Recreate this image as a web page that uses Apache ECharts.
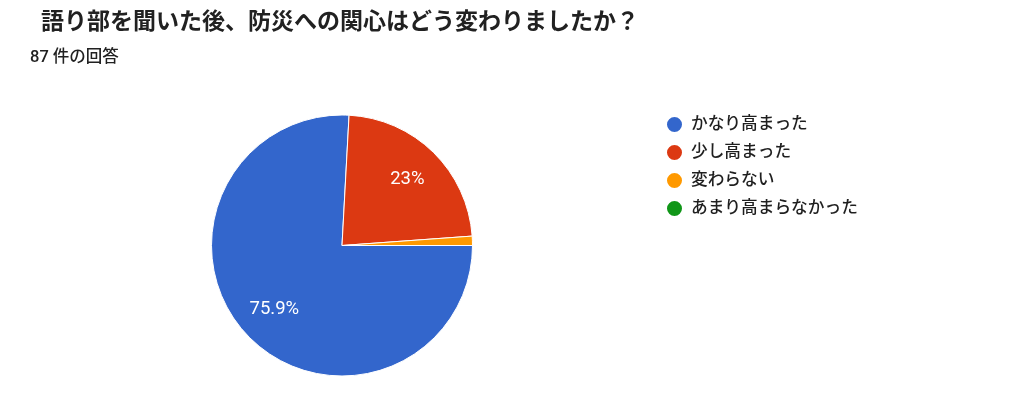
<!DOCTYPE html>
<html>
<head>
<meta charset="utf-8">
<script src="https://cdn.jsdelivr.net/npm/echarts@6/dist/echarts.min.js"></script>
<style>
html,body{margin:0;padding:0;background:#fff;}
#c{width:1024px;height:400px;}
</style>
</head>
<body>
<div id="c"></div>
<script>
const titleText = '語り部を聞いた後、防災への関心はどう変わりましたか？';
const subtitleText = '87 件の回答';
const categories = ['かなり高まった', '少し高まった', '変わらない', 'あまり高まらなかった'];
const counts = [66, 20, 1, 0];
const colors = ['#3366cc', '#dc3912', '#ff9900', '#109618'];

const FONT = "Roboto, 'Noto Sans CJK JP', sans-serif";
const chart = echarts.init(document.getElementById('c'));

const pieData = categories.map((n, i) => ({ name: n, value: counts[i], itemStyle: { color: colors[i] } }));
const labelData = categories.map((n, i) => ({ name: n, value: counts[i] }));

chart.setOption({
  animation: false,
  backgroundColor: '#ffffff',
  title: [
    { text: titleText, left: 41, top: 9, padding: 0,
      textStyle: { fontFamily: FONT, fontSize: 23, fontWeight: 'bold', color: '#212121', lineHeight: 28 } },
    { text: subtitleText, left: 30, top: 49, padding: 0,
      textStyle: { fontFamily: FONT, fontSize: 16.5, fontWeight: 500, color: '#212121', lineHeight: 18 } }
  ],
  legend: {
    orient: 'vertical',
    left: 665,
    top: 115,
    padding: 0,
    icon: 'circle',
    itemWidth: 17,
    itemHeight: 17,
    itemGap: 9,
    data: categories.map((n, i) => ({ name: n, itemStyle: { color: colors[i] } })),
    textStyle: { fontFamily: FONT, fontSize: 16.7, fontWeight: 500, color: '#1f1f1f', lineHeight: 17, padding: [0, 0, 0, 3] },
    selectedMode: false
  },
  series: [
    {
      type: 'pie',
      center: [342, 245.5],
      radius: [0, 130.5],
      startAngle: 0,
      clockwise: true,
      silent: true,
      data: pieData,
      itemStyle: { borderColor: '#ffffff', borderWidth: 1 },
      label: { show: false },
      labelLine: { show: false },
      emphasis: { disabled: true }
    },
    {
      type: 'pie',
      center: [342, 245.5],
      radius: [50, 130.5],
      startAngle: 0,
      clockwise: true,
      silent: true,
      data: labelData,
      itemStyle: { color: 'rgba(0,0,0,0)', borderWidth: 0 },
      label: {
        show: true,
        position: 'inside',
        color: '#ffffff',
        fontFamily: FONT,
        fontSize: 18.5,
        formatter: function (p) {
          if (p.percent < 5) return '';
          return (Math.round(p.percent * 10) / 10) + '%';
        }
      },
      labelLine: { show: false },
      emphasis: { disabled: true }
    }
  ]
});
</script>
</body>
</html>
